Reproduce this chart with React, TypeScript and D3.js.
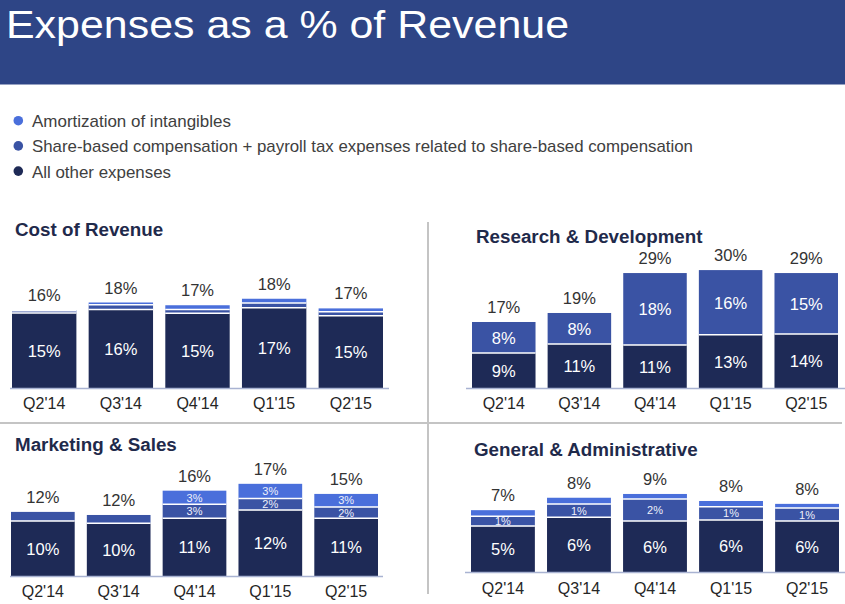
import React from "react";
import * as d3 from "d3";

// ---------- Data ----------
const quarters = ["Q2'14", "Q3'14", "Q4'14", "Q1'15", "Q2'15"];

const legendLabels = [
  "Amortization of intangibles",
  "Share-based compensation + payroll tax expenses related to share-based compensation",
  "All other expenses",
];

// Cost of Revenue (% of revenue)
const corOther = [15.0, 15.7, 14.95, 16.05, 14.45];
const corShare = [0.45, 0.95, 0.75, 0.95, 0.8];
const corAmort = [0.15, 0.45, 0.85, 0.85, 0.67];
const corTotalLabels = ["16%", "18%", "17%", "18%", "17%"];
const corOtherLabels = ["15%", "16%", "15%", "17%", "15%"];
const corShareLabels = ["", "", "", "", ""];
const corAmortLabels = ["", "", "", "", ""];

// Research & Development
const rdOther = [8.86, 11.14, 10.9, 13.45, 13.67];
const rdShare = [7.85, 7.85, 18.2, 16.4, 15.43];
const rdAmort = [0, 0, 0, 0, 0];
const rdTotalLabels = ["17%", "19%", "29%", "30%", "29%"];
const rdOtherLabels = ["9%", "11%", "11%", "13%", "14%"];
const rdShareLabels = ["8%", "8%", "18%", "16%", "15%"];
const rdAmortLabels = ["", "", "", "", ""];

// Marketing & Sales
const msOther = [10.2, 9.75, 10.7, 12.2, 10.7];
const msShare = [1.67, 1.55, 2.6, 2.17, 2.1];
const msAmort = [0, 0, 2.5, 2.7, 2.4];
const msTotalLabels = ["12%", "12%", "16%", "17%", "15%"];
const msOtherLabels = ["10%", "10%", "11%", "12%", "11%"];
const msShareLabels = ["", "", "3%", "2%", "2%"];
const msAmortLabels = ["", "", "3%", "3%", "3%"];

// General & Administrative
const gaOther = [5.1, 6.07, 5.67, 5.78, 5.67];
const gaShare = [1.1, 1.48, 2.44, 1.48, 1.45];
const gaAmort = [0.67, 0.7, 0.56, 0.63, 0.45];
const gaTotalLabels = ["7%", "8%", "9%", "8%", "8%"];
const gaOtherLabels = ["5%", "6%", "6%", "6%", "6%"];
const gaShareLabels = ["1%", "1%", "2%", "1%", "1%"];
const gaAmortLabels = ["", "", "", "", ""];

// ---------- Styles ----------
const FONT = "'Liberation Sans', Arial, Helvetica, sans-serif";
const COLORS = { other: "#1E2A56", share: "#3A53A4", amort: "#4A6FDB" };
const legendColors = [COLORS.amort, COLORS.share, COLORS.other];

type PanelProps = {
  title: string;
  titleX: number;
  titleY: number;
  other: number[];
  share: number[];
  amort: number[];
  totalLabels: string[];
  otherLabels: string[];
  shareLabels: string[];
  amortLabels: string[];
  shareBig: boolean;
  x0: number;
  x1: number;
  axisY: number;
  ppu: number;
  axisX0: number;
  axisX1: number;
  catY: number;
};

function Panel(p: PanelProps) {
  const x = d3
    .scaleBand<string>()
    .domain(quarters)
    .range([p.x0, p.x1])
    .paddingInner(0.16)
    .paddingOuter(0);
  const y = d3
    .scaleLinear()
    .domain([0, 10])
    .range([p.axisY, p.axisY - 10 * p.ppu]);

  const rows = quarters.map((q, i) => ({
    q,
    other: p.other[i],
    share: p.share[i],
    amort: p.amort[i],
  }));
  const keys = ["other", "share", "amort"] as const;
  const series = d3.stack<any>().keys(keys as any)(rows);
  const labelSets: Record<string, string[]> = {
    other: p.otherLabels,
    share: p.shareLabels,
    amort: p.amortLabels,
  };
  const bw = x.bandwidth();

  return (
    <g>
      <text
        x={p.titleX}
        y={p.titleY}
        fontFamily={FONT}
        fontWeight="bold"
        fontSize={18.8}
        fill="#1F2A4B"
      >
        {p.title}
      </text>
      {series.map((s) => (
        <g key={s.key}>
          {s.map((d, i) => {
            const h = y(d[0]) - y(d[1]);
            if (h <= 0) return null;
            return (
              <rect
                key={i}
                x={x(quarters[i])}
                y={y(d[1])}
                width={bw}
                height={h}
                fill={(COLORS as any)[s.key]}
              />
            );
          })}
        </g>
      ))}
      {/* white separators between segments */}
      {series
        .filter((s) => s.key !== "other")
        .map((s) =>
          s.map((d, i) =>
            d[1] - d[0] > 0 && d[0] > 0 ? (
              <line
                key={s.key + i}
                x1={x(quarters[i])}
                x2={(x(quarters[i]) as number) + bw}
                y1={y(d[0])}
                y2={y(d[0])}
                stroke="#ffffff"
                strokeWidth={1.5}
              />
            ) : null
          )
        )}
      {/* segment labels */}
      {series.map((s) =>
        s.map((d, i) => {
          const lab = labelSets[s.key][i];
          if (!lab) return null;
          const small = s.key !== "other" && !(s.key === "share" && p.shareBig);
          const fs = small ? 11 : 16.5;
          const cy = (y(d[0]) + y(d[1])) / 2;
          return (
            <text
              key={s.key + "l" + i}
              x={(x(quarters[i]) as number) + bw / 2}
              y={cy + fs * 0.37}
              textAnchor="middle"
              fontFamily={FONT}
              fontSize={fs}
              fill={small ? "#EEF0FA" : "#ffffff"}
            >
              {lab}
            </text>
          );
        })
      )}
      {/* totals */}
      {rows.map((r, i) => (
        <text
          key={"t" + i}
          x={(x(r.q) as number) + bw / 2}
          y={y(r.other + r.share + r.amort) - 9}
          textAnchor="middle"
          fontFamily={FONT}
          fontSize={16.5}
          fill="#333333"
        >
          {p.totalLabels[i]}
        </text>
      ))}
      <line
        x1={p.axisX0}
        x2={p.axisX1}
        y1={p.axisY + 0.5}
        y2={p.axisY + 0.5}
        stroke="#A9B3D2"
        strokeWidth={1.5}
      />
      {quarters.map((q) => (
        <text
          key={"c" + q}
          x={(x(q) as number) + bw / 2}
          y={p.catY}
          textAnchor="middle"
          fontFamily={FONT}
          fontSize={16}
          fill="#262626"
        >
          {q}
        </text>
      ))}
    </g>
  );
}

export default function App() {
  const legendWidths = [199, 661, 139];
  return (
    <svg
      width={845}
      height={604}
      style={{ position: "fixed", left: 0, top: 0, background: "#ffffff" }}
    >
      <rect x={0} y={0} width={845} height={604} fill="#ffffff" />
      <rect x={0} y={0} width={845} height={84.5} fill="#2E4586" />
      <text
        x={6}
        y={37.5}
        fontFamily={FONT}
        fontSize={38.5}
        fill="#ffffff"
        textLength={563}
        lengthAdjust="spacingAndGlyphs"
      >
        Expenses as a % of Revenue
      </text>

      {legendLabels.map((t, i) => (
        <g key={t}>
          <circle cx={18.3} cy={120.7 + i * 25.2} r={4.8} fill={legendColors[i]} />
          <text
            x={32}
            y={127.2 + i * 25.2}
            fontFamily={FONT}
            fontSize={17}
            fill="#404040"
            textLength={legendWidths[i]}
            lengthAdjust="spacingAndGlyphs"
          >
            {t}
          </text>
        </g>
      ))}

      {/* dividers */}
      <line x1={0} x2={842} y1={423} y2={423} stroke="#C4C4C4" strokeWidth={2} />
      <line x1={428} x2={428} y1={222} y2={594} stroke="#C4C4C4" strokeWidth={2} />

      <Panel
        title="Cost of Revenue"
        titleX={15}
        titleY={235.5}
        other={corOther}
        share={corShare}
        amort={corAmort}
        totalLabels={corTotalLabels}
        otherLabels={corOtherLabels}
        shareLabels={corShareLabels}
        amortLabels={corAmortLabels}
        shareBig={false}
        x0={12}
        x1={383}
        axisY={388}
        ppu={5}
        axisX0={10}
        axisX1={389}
        catY={409.3}
      />
      <Panel
        title="Research & Development"
        titleX={476}
        titleY={243}
        other={rdOther}
        share={rdShare}
        amort={rdAmort}
        totalLabels={rdTotalLabels}
        otherLabels={rdOtherLabels}
        shareLabels={rdShareLabels}
        amortLabels={rdAmortLabels}
        shareBig={true}
        x0={472}
        x1={838}
        axisY={388}
        ppu={3.95}
        axisX0={466}
        axisX1={845}
        catY={409.3}
      />
      <Panel
        title="Marketing & Sales"
        titleX={15}
        titleY={450.5}
        other={msOther}
        share={msShare}
        amort={msAmort}
        totalLabels={msTotalLabels}
        otherLabels={msOtherLabels}
        shareLabels={msShareLabels}
        amortLabels={msAmortLabels}
        shareBig={false}
        x0={11}
        x1={378}
        axisY={576}
        ppu={5.4}
        axisX0={10}
        axisX1={383}
        catY={596.7}
      />
      <Panel
        title="General & Administrative"
        titleX={474}
        titleY={455.5}
        other={gaOther}
        share={gaShare}
        amort={gaAmort}
        totalLabels={gaTotalLabels}
        otherLabels={gaOtherLabels}
        shareLabels={gaShareLabels}
        amortLabels={gaAmortLabels}
        shareBig={false}
        x0={471}
        x1={839}
        axisY={572}
        ppu={9}
        axisX0={465}
        axisX1={845}
        catY={594}
      />
    </svg>
  );
}
